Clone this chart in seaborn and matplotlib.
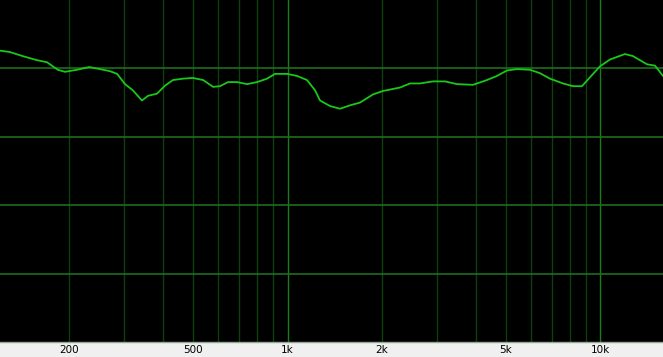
import matplotlib
matplotlib.use("Agg")
import matplotlib.pyplot as plt
import seaborn as sns
import pandas as pd
from matplotlib.ticker import FixedLocator, NullFormatter

freq_hz = [120, 129, 142, 158, 170, 184, 194, 212, 232, 251, 270, 285, 302, 320,
           342, 358, 382, 406, 430, 463, 498, 537, 578, 608, 645, 689, 742, 799,
           860, 912, 996, 1073, 1154, 1225, 1271, 1368, 1472, 1585, 1706, 1878,
           2021, 2291, 2466, 2655, 2922, 3192, 3487, 3923, 4349, 4682, 5040,
           5426, 5970, 6427, 6918, 7612, 8194, 8757, 9290, 10000, 10765, 12020,
           12750, 14140, 15000, 15910]
level_db = [92.6, 92.4, 91.8, 91.2, 90.9, 89.8, 89.5, 89.8, 90.2, 89.9, 89.6, 89.2,
            87.7, 86.8, 85.3, 86.0, 86.3, 87.5, 88.3, 88.5, 88.6, 88.3, 87.3, 87.4,
            88.0, 88.0, 87.7, 88.0, 88.5, 89.2, 89.2, 88.9, 88.3, 86.8, 85.3, 84.5,
            84.1, 84.6, 85.0, 86.2, 86.7, 87.2, 87.8, 87.8, 88.1, 88.1, 87.7, 87.6,
            88.3, 88.9, 89.7, 89.9, 89.8, 89.3, 88.5, 87.8, 87.4, 87.4, 88.7, 90.3,
            91.3, 92.1, 91.8, 90.6, 90.4, 88.9]

tick_freqs = [200, 500, 1000, 2000, 5000, 10000]
tick_labels = ["200", "500", "1k", "2k", "5k", "10k"]
major_vlines = [1000, 10000]
minor_vlines = [200, 300, 400, 500, 600, 700, 800, 900,
                2000, 3000, 4000, 5000, 6000, 7000, 8000, 9000]
level_lines = [60, 70, 80, 90]

df = pd.DataFrame({"freq": freq_hz, "level": level_db})

fig = plt.figure(figsize=(6.63, 3.57), dpi=100, facecolor="#f0f0f0")
ax = fig.add_axes([0, 15 / 357, 1, 342 / 357])
ax.set_facecolor("black")
ax.set_xscale("log")
ax.set_xlim(120.2, 15910)
ax.set_ylim(50, 100)

for f in minor_vlines:
    ax.axvline(f, color="#0c400c", lw=1.0, zorder=1)
for f in major_vlines:
    ax.axvline(f, color="#1d7a1d", lw=1.0, zorder=1)
for v in level_lines:
    ax.axhline(v, color="#1d6e1d", lw=1.2, zorder=1)

sns.lineplot(data=df, x="freq", y="level", ax=ax, color="#19c819", lw=1.3, zorder=3)

ax.xaxis.set_major_locator(FixedLocator(tick_freqs))
ax.set_xticklabels(tick_labels)
ax.xaxis.set_minor_locator(FixedLocator([]))
ax.xaxis.set_minor_formatter(NullFormatter())
ax.set_yticks([])
ax.tick_params(axis="x", length=0, pad=2.5, labelsize=7.5, colors="black")
ax.set_xlabel("")
ax.set_ylabel("")
for s in ax.spines.values():
    s.set_visible(False)
ax.spines["bottom"].set_visible(True)
ax.spines["bottom"].set_color("#90a890")
ax.spines["bottom"].set_linewidth(1.0)

fig.savefig("out.png", dpi=100, facecolor=fig.get_facecolor())
